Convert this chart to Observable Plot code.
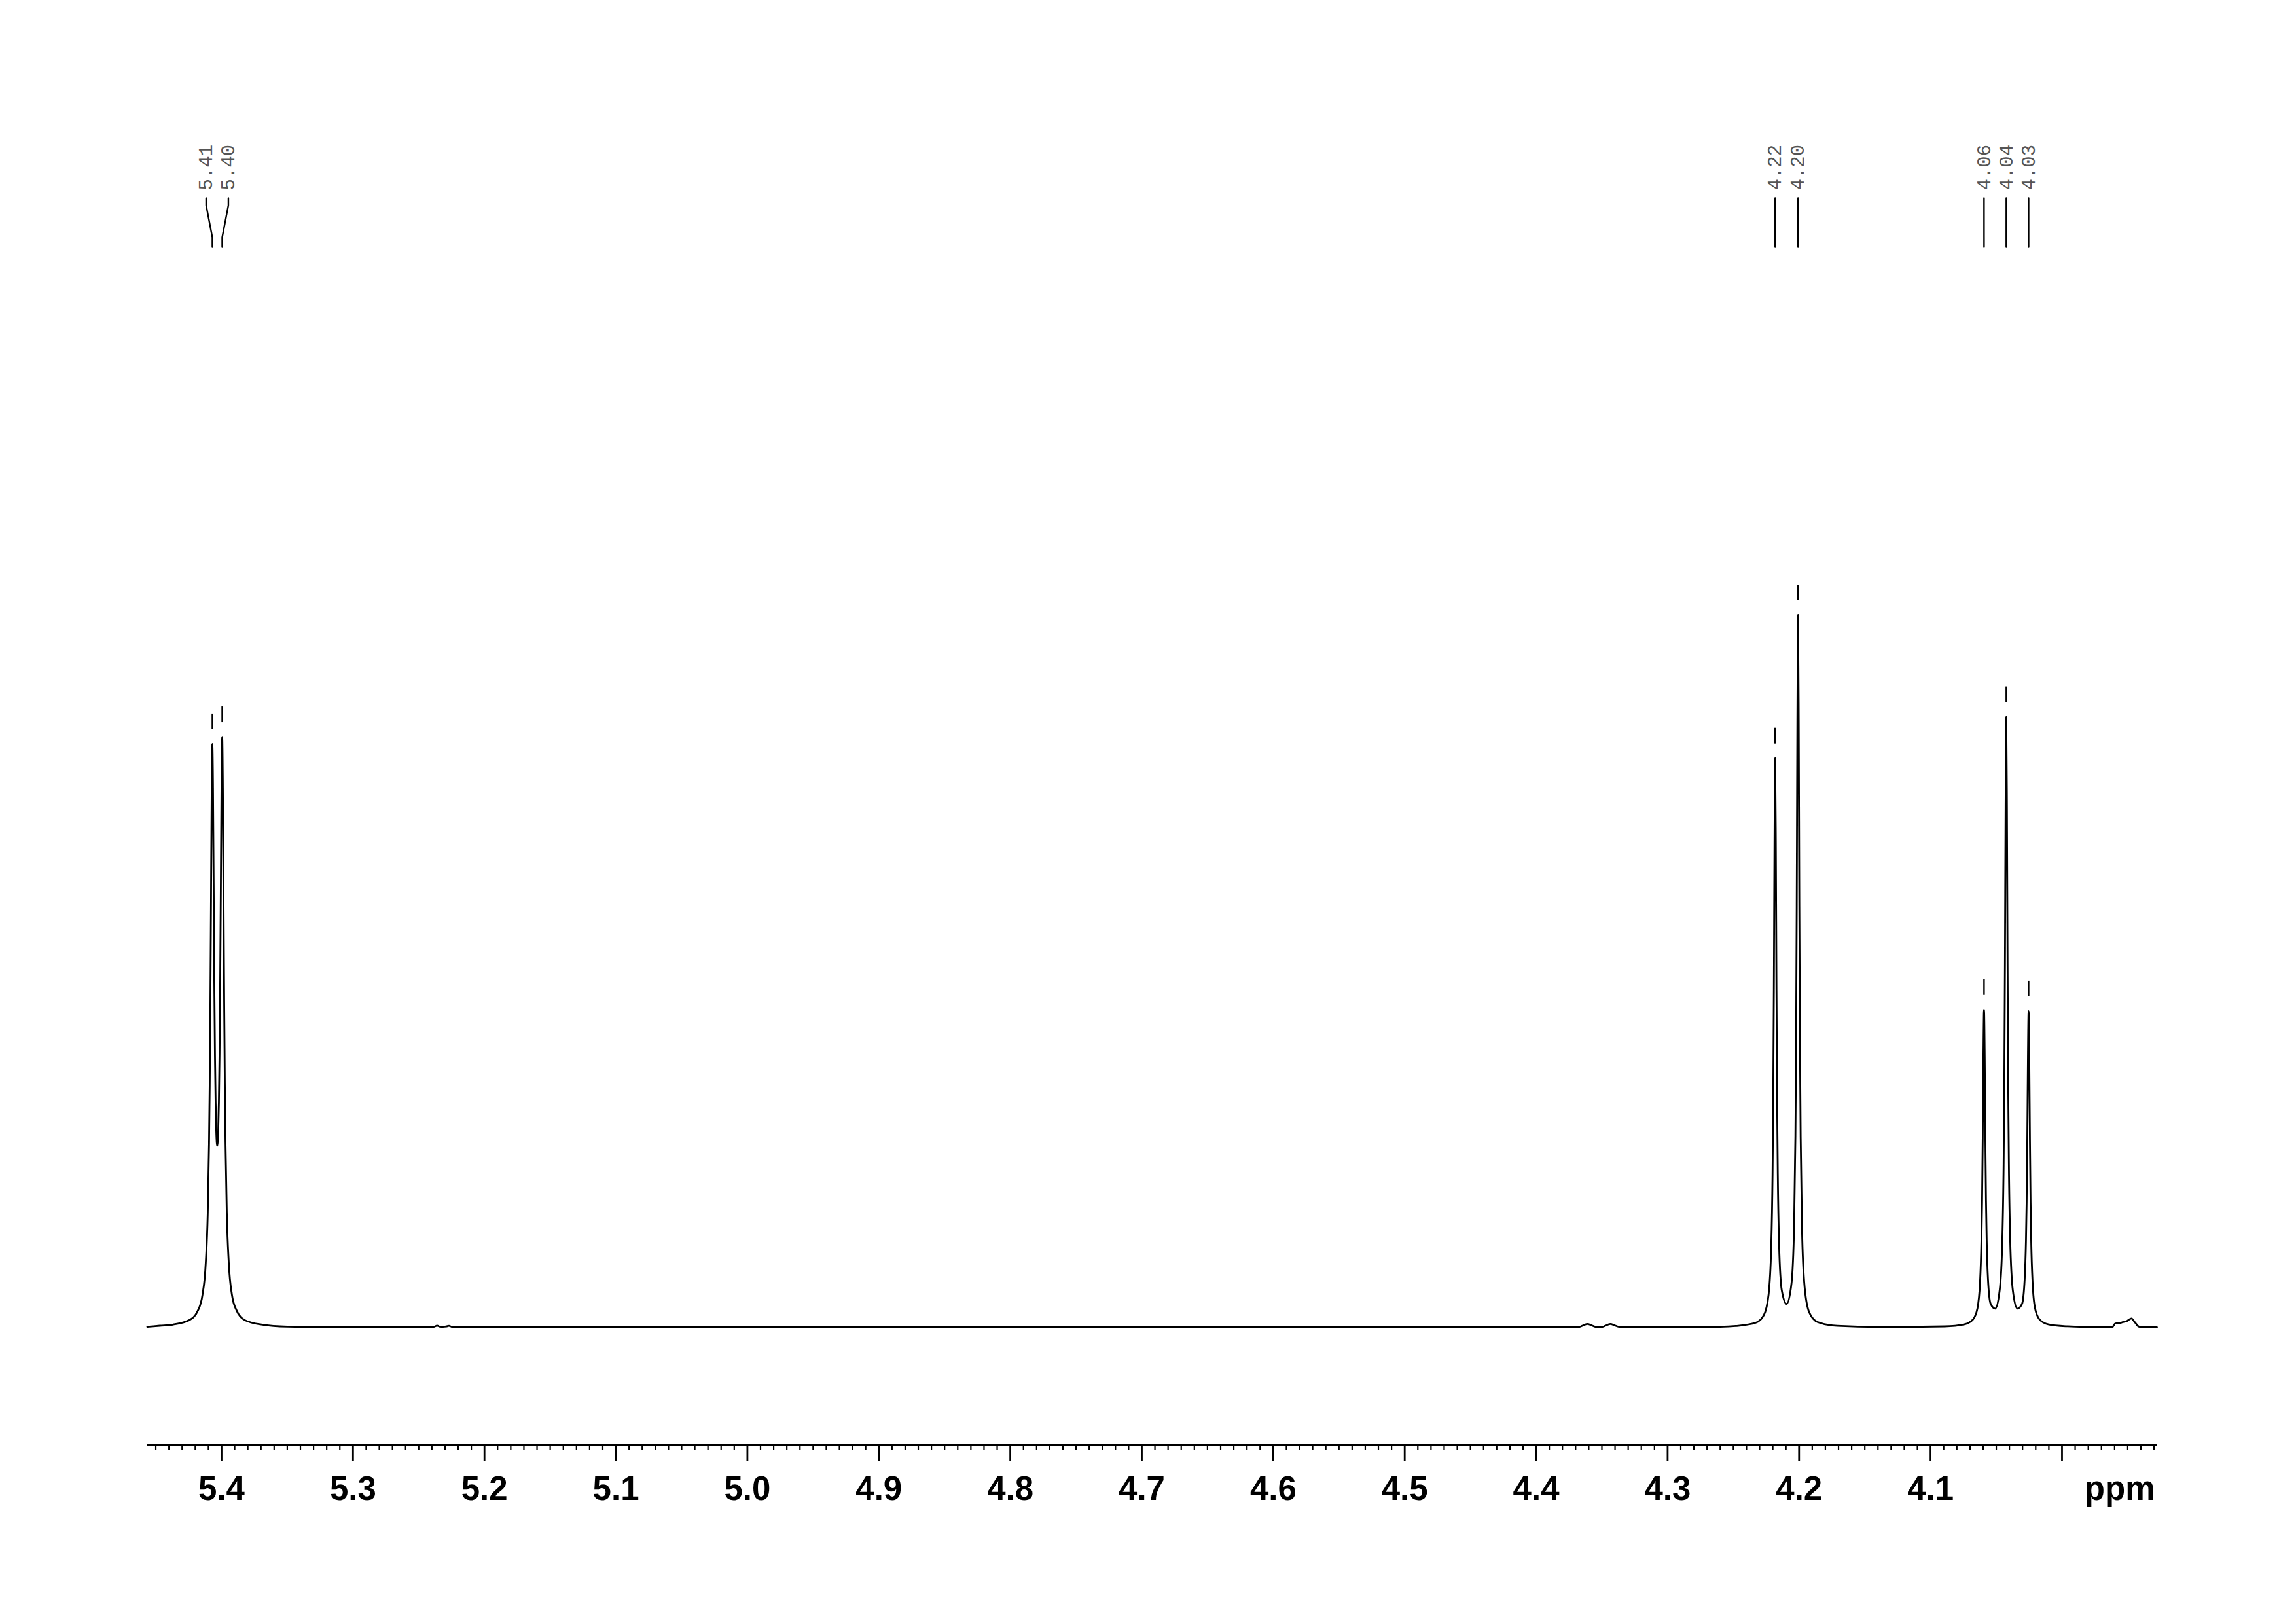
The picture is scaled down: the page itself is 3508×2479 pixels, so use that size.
<!DOCTYPE html>
<html>
<head>
<meta charset="utf-8">
<script src="https://cdn.jsdelivr.net/npm/d3@7"></script>
<script src="https://cdn.jsdelivr.net/npm/@observablehq/plot@0.6"></script>
<style>
  html, body { margin: 0; padding: 0; background: #ffffff; }
  #chart svg { display: block; }
</style>
</head>
<body>
<div id="chart"></div>
<script>
// ---------------- DATA (intensity relative to tallest line = 100) ----------------
// olefinic doublet 5.41 / 5.40
const olefinPpm = [5.4565, 5.4470, 5.4369, 5.4244, 5.4180, 5.4145, 5.4120, 5.4105, 5.4095, 5.4090, 5.4085, 5.4080, 5.4075, 5.4070, 5.4065, 5.4060, 5.4055, 5.4050, 5.4045, 5.4040, 5.4033, 5.4025, 5.4020, 5.4015, 5.4010, 5.4005, 5.4000, 5.3995, 5.3990, 5.3985, 5.3980, 5.3975, 5.3970, 5.3960, 5.3945, 5.3921, 5.3886, 5.3821, 5.3697, 5.3500, 5.3000];
const olefinInt = [0.08, 0.23, 0.39, 1.03, 2.35, 4.56, 9.04, 15.96, 25.8, 34.0, 45.4, 60.1, 74.9, 81.9, 75.8, 62.0, 48.4, 38.2, 31.5, 27.5, 25.5, 27.7, 31.7, 38.6, 49.0, 62.7, 76.8, 82.9, 75.8, 60.8, 46.0, 34.4, 26.1, 16.1, 9.1, 4.6, 2.4, 1.0, 0.4, 0.1, 0];

// tiny impurity near 5.23
const impA_Ppm = [5.2420, 5.2380, 5.2360, 5.2340, 5.2315, 5.2290, 5.2270, 5.2250, 5.2200];
const impA_Int = [0, 0.1, 0.25, 0.1, 0.08, 0.12, 0.22, 0.08, 0];

// flat baseline
const flatPpm = [5.0000, 4.6000];
const flatInt = [0, 0];

// tiny impurity near 4.36 / 4.34
const impB_Ppm = [4.3740, 4.3670, 4.3640, 4.3610, 4.3580, 4.3550, 4.3525, 4.3495, 4.3465, 4.3435, 4.3405, 4.3370, 4.3300];
const impB_Int = [0, 0.08, 0.3, 0.48, 0.3, 0.08, 0.04, 0.08, 0.3, 0.48, 0.3, 0.08, 0];

// doublet 4.22 / 4.20
const dbPpm = [4.2600, 4.2481, 4.2331, 4.2267, 4.2232, 4.2212, 4.2202, 4.2197, 4.2192, 4.2187, 4.2182, 4.2177, 4.2172, 4.2167, 4.2162, 4.2152, 4.2132, 4.2095, 4.2058, 4.2038, 4.2028, 4.2023, 4.2018, 4.2013, 4.2008, 4.2003, 4.1998, 4.1993, 4.1988, 4.1978, 4.1958, 4.1923, 4.1858, 4.1709, 4.1400];
const dbInt = [0.08, 0.19, 0.64, 1.76, 4.61, 11.3, 21.4, 31.4, 47.3, 68.1, 79.9, 68.1, 47.4, 31.5, 21.6, 11.6, 5.24, 3.30, 6.15, 14.3, 26.9, 39.3, 59.2, 85.3, 100, 85.2, 59.1, 39.2, 26.7, 14.0, 5.66, 2.12, 0.74, 0.21, 0.05];

// triplet 4.06 / 4.04 / 4.03
const trPpm = [4.0892, 4.0742, 4.0678, 4.0643, 4.0623, 4.0613, 4.0608, 4.0603, 4.0598, 4.0593, 4.0588, 4.0583, 4.0578, 4.0573, 4.0563, 4.0543, 4.0508, 4.0474, 4.0454, 4.0444, 4.0439, 4.0434, 4.0429, 4.0424, 4.0419, 4.0414, 4.0409, 4.0404, 4.0394, 4.0374, 4.0339, 4.0304, 4.0284, 4.0274, 4.0269, 4.0264, 4.0259, 4.0254, 4.0249, 4.0244, 4.0239, 4.0234, 4.0224, 4.0205, 4.0170, 4.0105, 3.9956];
const trInt = [0.14, 0.43, 1.09, 2.69, 6.44, 12.08, 17.62, 26.45, 38.03, 44.6, 38.1, 26.57, 17.78, 12.29, 6.78, 3.32, 2.63, 5.22, 12.25, 23.04, 33.69, 50.74, 73.08, 85.7, 73.08, 50.75, 33.69, 23.05, 12.25, 5.21, 2.63, 3.31, 6.75, 12.24, 17.70, 26.45, 37.93, 44.4, 37.87, 26.34, 17.54, 12.03, 6.41, 2.68, 1.09, 0.43, 0.14];

// small bump near 3.95 and right edge
const tailPpm = [3.9800, 3.9650, 3.9617, 3.9595, 3.9560, 3.9535, 3.9510, 3.9472, 3.9445, 3.9415, 3.9380, 3.9278];
const tailInt = [0.05, 0.02, 0.05, 0.55, 0.6, 0.75, 0.85, 1.25, 0.7, 0.1, 0, 0];

// picked peaks (labels at top)
const peakPpm    = [5.4070, 5.3995, 4.2182, 4.2008, 4.0593, 4.0424, 4.0254];
const peakLabel  = ["5.41", "5.40", "4.22", "4.20", "4.06", "4.04", "4.03"];
const peakHeight = [81.9, 82.9, 79.9, 100, 44.6, 85.7, 44.4];

// axis ticks
const majorTicks  = [5.4, 5.3, 5.2, 5.1, 5.0, 4.9, 4.8, 4.7, 4.6, 4.5, 4.4, 4.3, 4.2, 4.1, 4.0];
const majorLabels = ["5.4", "5.3", "5.2", "5.1", "5.0", "4.9", "4.8", "4.7", "4.6", "4.5", "4.4", "4.3", "4.2", "4.1", ""];
const axisUnit = "ppm";

// ---------------- LAYOUT ----------------
const W = 3508, H = 2479;
const X_DOMAIN = [5.4565, 3.9278];
const M_LEFT = 224.5, M_RIGHT = 213, M_TOP = 0, M_BOTTOM = 272;
const AXIS_PX = H - M_BOTTOM;       // axis line (bottom of frame)
const BASE_PX = 2027;               // spectrum baseline
const PX_PER_UNIT = 10.88;          // vertical pixels per intensity unit
const yAtPx = (px) => (BASE_PX - px) / PX_PER_UNIT;
const xPx = d3.scaleLinear().domain(X_DOMAIN).range([M_LEFT, W - M_RIGHT]);

const segments = [
  [olefinPpm, olefinInt], [impA_Ppm, impA_Int], [flatPpm, flatInt], [impB_Ppm, impB_Int],
  [dbPpm, dbInt], [trPpm, trInt], [tailPpm, tailInt]
];
const spectrum = segments.flatMap(([p, v]) => p.map((d, i) => ({ppm: d, intensity: v[i]})));

// peak label placement: spread overlapping labels apart
const MIN_GAP = 34;
const peaks = peakPpm.map((p, i) => ({ppm: p, label: peakLabel[i], height: peakHeight[i], px: xPx(p)}))
  .sort((a, b) => a.px - b.px);
const clusters = [];
for (const p of peaks) {
  const last = clusters[clusters.length - 1];
  if (last && p.px - last[last.length - 1].px < MIN_GAP) last.push(p); else clusters.push([p]);
}
for (const c of clusters) {
  const mean = d3.mean(c, d => d.px);
  c.forEach((d, i) => { d.labelPx = mean + (i - (c.length - 1) / 2) * MIN_GAP; d.labelPpm = xPx.invert(d.labelPx); });
}
const LABEL_START_PX = 290, CONN_TOP = 302, CONN_B1 = 313, CONN_B2 = 362, CONN_BOTTOM = 377;
const connectors = peaks.flatMap(d => [
  {label: d.label, ppm: d.labelPpm, y: yAtPx(CONN_TOP)},
  {label: d.label, ppm: d.labelPpm, y: yAtPx(CONN_B1)},
  {label: d.label, ppm: d.ppm, y: yAtPx(CONN_B2)},
  {label: d.label, ppm: d.ppm, y: yAtPx(CONN_BOTTOM)}
]);
const MARK_GAP = 22 / PX_PER_UNIT, MARK_LEN = 24 / PX_PER_UNIT;

const minorTicks = d3.range(393, 546).filter(i => i % 10 !== 0).map(i => i / 100);

const AXIS_FONT = "'Liberation Sans', Arial, Helvetica, sans-serif";

const chart = Plot.plot({
  width: W,
  height: H,
  marginLeft: M_LEFT,
  marginRight: M_RIGHT,
  marginTop: M_TOP,
  marginBottom: M_BOTTOM,
  style: {background: "#ffffff", overflow: "visible"},
  x: {domain: X_DOMAIN, axis: null},
  y: {domain: [yAtPx(AXIS_PX), yAtPx(0)], axis: null},
  marks: [
    // axis line
    Plot.ruleY([yAtPx(AXIS_PX)], {stroke: "#000", strokeWidth: 2.8}),
    // minor ticks
    Plot.axisX(minorTicks, {anchor: "bottom", tickSize: 8, tickFormat: () => "", strokeWidth: 2.2, stroke: "#000", label: null}),
    // major ticks + labels
    Plot.axisX(majorTicks, {
      anchor: "bottom", tickSize: 25, tickPadding: 22, strokeWidth: 2.8, stroke: "#000",
      tickFormat: d => majorLabels[majorTicks.indexOf(d)] ?? "",
      fontSize: 51, fontWeight: "bold", fontFamily: AXIS_FONT, fill: "#000", label: null
    }),
    Plot.text([axisUnit], {
      frameAnchor: "bottom-right", text: d => d, textAnchor: "end", lineAnchor: "bottom",
      dy: 83, dx: -3, fontSize: 51, fontWeight: "bold", fontFamily: AXIS_FONT, fill: "#000"
    }),
    // spectrum
    Plot.line(spectrum, {x: "ppm", y: "intensity", curve: "monotone-x", stroke: "#000", strokeWidth: 2.8}),
    // peak markers above each picked line
    Plot.ruleX(peaks, {x: "ppm", y1: d => d.height + MARK_GAP, y2: d => d.height + MARK_GAP + MARK_LEN, stroke: "#000", strokeWidth: 2.4}),
    // connectors from labels to peaks
    Plot.line(connectors, {x: "ppm", y: "y", z: "label", stroke: "#000", strokeWidth: 2.4}),
    // peak labels
    Plot.text(peaks, {
      x: "labelPpm", y: () => yAtPx(LABEL_START_PX), text: "label", rotate: -90,
      textAnchor: "start", lineAnchor: "middle", fontSize: 29,
      fontFamily: "'Liberation Mono', 'DejaVu Sans Mono', monospace", fill: "#555"
    })
  ]
});
document.getElementById("chart").appendChild(chart);
</script>
</body>
</html>
